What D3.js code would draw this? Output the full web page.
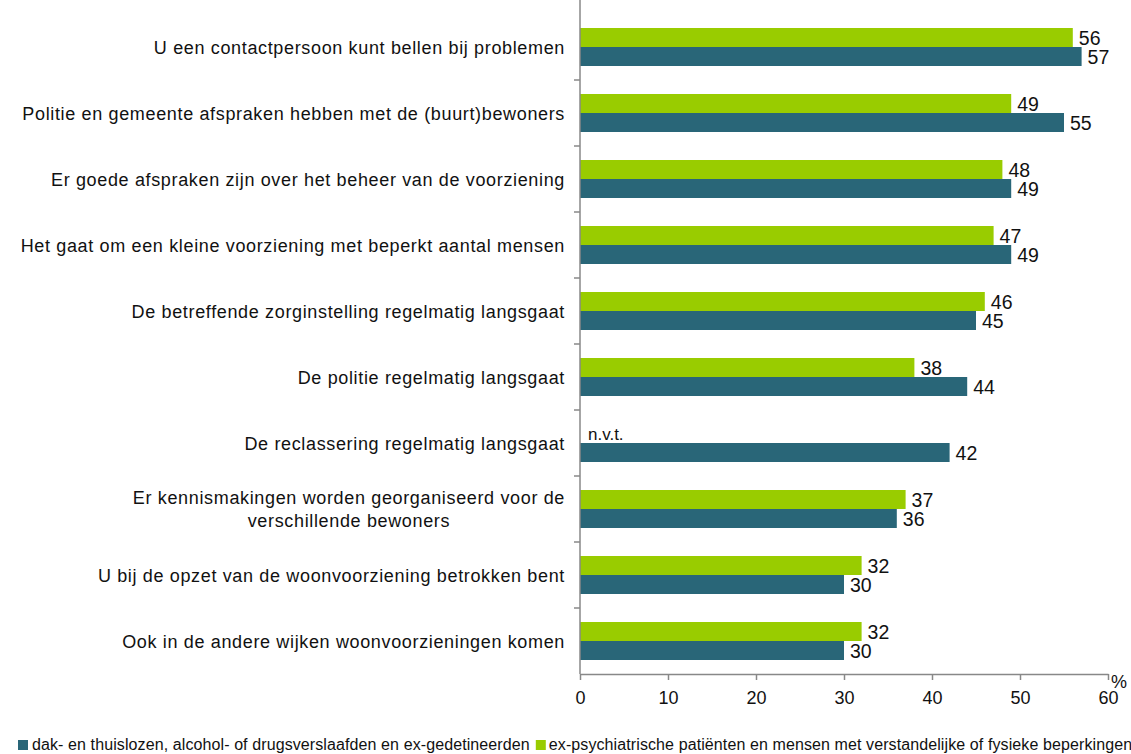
<!DOCTYPE html>
<html>
<head>
<meta charset="utf-8">
<script src="https://cdn.jsdelivr.net/npm/d3@7"></script>
<style>
  body { margin: 0; background: #fff; }
  text { font-family: "Liberation Sans", Arial, sans-serif; fill: #111; }
</style>
</head>
<body>
<svg id="chart" width="1131" height="754"></svg>
<script>
// categories (top to bottom)
const categories = [
  ["U een contactpersoon kunt bellen bij problemen"],
  ["Politie en gemeente afspraken hebben met de (buurt)bewoners"],
  ["Er goede afspraken zijn over het beheer van de voorziening"],
  ["Het gaat om een kleine voorziening met beperkt aantal mensen "],
  ["De betreffende zorginstelling regelmatig langsgaat"],
  ["De politie regelmatig langsgaat"],
  ["De reclassering regelmatig langsgaat"],
  ["Er kennismakingen worden georganiseerd voor de", "verschillende bewoners"],
  ["U bij de opzet van de woonvoorziening betrokken bent"],
  ["Ook in de andere wijken woonvoorzieningen komen"]
];
const seriesNames = [
  "dak- en thuislozen, alcohol- of drugsverslaafden en ex-gedetineerden",
  "ex-psychiatrische patiënten en mensen met verstandelijke of fysieke beperkingen"
];
const daklozen = [57, 55, 49, 49, 45, 44, 42, 36, 30, 30];
const psych = [56, 49, 48, 47, 46, 38, null, 37, 32, 32];
const xTicks = [0, 10, 20, 30, 40, 50, 60];
const colors = ["#296678", "#99cc00"];

const svg = d3.select("#chart");
const plotLeft = 580, plotRight = 1108, plotTop = 14, plotBottom = 674;
const labelRight = 565;
const spacing = "0.65px";

const x = d3.scaleLinear().domain([0, 60]).range([plotLeft, plotRight]);
const y = d3.scaleBand().domain(d3.range(categories.length)).range([plotTop, plotBottom]);
const barH = 19;

const g = svg.append("g");
categories.forEach((c, i) => {
  const mid = y(i) + y.bandwidth() / 2;
  // green bar (top)
  if (psych[i] !== null) {
    g.append("rect")
      .attr("x", x(0)).attr("y", mid - barH)
      .attr("width", x(psych[i]) - x(0)).attr("height", barH)
      .attr("fill", colors[1]);
    g.append("text")
      .attr("x", x(psych[i]) + 6).attr("y", mid - barH / 2 + 7)
      .style("font-size", "19.5px").text(psych[i]);
  } else {
    g.append("text")
      .attr("x", x(0) + 8).attr("y", mid - 3)
      .style("font-size", "17px").text("n.v.t.");
  }
  // teal bar (bottom)
  g.append("rect")
    .attr("x", x(0)).attr("y", mid)
    .attr("width", x(daklozen[i]) - x(0)).attr("height", barH)
    .attr("fill", colors[0]);
  g.append("text")
    .attr("x", x(daklozen[i]) + 6).attr("y", mid + barH / 2 + 7)
    .style("font-size", "19.5px").text(daklozen[i]);

  // category label
  const n = c.length;
  if (n === 1) {
    svg.append("text")
      .attr("x", labelRight).attr("y", mid + 6.5)
      .attr("text-anchor", "end")
      .style("font-size", "18px").style("letter-spacing", spacing).text(c[0]);
  } else {
    const lbl = svg.append("text").attr("text-anchor", "middle")
      .style("font-size", "18px").style("letter-spacing", spacing);
    const spans = c.map((line, k) => lbl.append("tspan")
      .attr("y", mid + 6.5 + (k - (n - 1) / 2) * 23).text(line));
    const w = d3.max(spans, s => s.node().getComputedTextLength());
    spans.forEach(s => s.attr("x", labelRight - w / 2));
  }
});

// y axis line + category boundary ticks
svg.append("line")
  .attr("x1", plotLeft).attr("x2", plotLeft).attr("y1", 0).attr("y2", plotBottom)
  .attr("stroke", "#888").attr("stroke-width", 1.5);
d3.range(1, categories.length).forEach(i => {
  svg.append("line")
    .attr("x1", plotLeft - 6).attr("x2", plotLeft).attr("y1", y(i)).attr("y2", y(i))
    .attr("stroke", "#888").attr("stroke-width", 1.5);
});

// x axis
const xAxis = svg.append("g")
  .attr("transform", `translate(0,${plotBottom})`)
  .call(d3.axisBottom(x).tickValues(xTicks).tickSize(6).tickSizeOuter(0));
xAxis.select(".domain").attr("stroke", "#888").attr("stroke-width", 1.5);
xAxis.selectAll(".tick line").attr("stroke", "#888").attr("stroke-width", 1.5);
xAxis.selectAll(".tick text")
  .attr("y", 17)
  .style("font-family", "Liberation Sans, Arial, sans-serif")
  .style("font-size", "18px").attr("fill", "#111");

svg.append("text")
  .attr("x", plotRight + 3).attr("y", plotBottom + 14)
  .style("font-size", "18px").text("%");

// legend
const legendY = 750;
const leg = svg.append("g");
leg.append("rect").attr("x", 18).attr("y", legendY - 10).attr("width", 10).attr("height", 10).attr("fill", colors[0]);
const t1 = leg.append("text").attr("x", 32).attr("y", legendY)
  .style("font-size", "16px").style("letter-spacing", "0.1px").text(seriesNames[0]);
const w1 = t1.node().getComputedTextLength();
leg.append("rect").attr("x", 32 + w1 + 6).attr("y", legendY - 10).attr("width", 10).attr("height", 10).attr("fill", colors[1]);
leg.append("text").attr("x", 32 + w1 + 19).attr("y", legendY)
  .style("font-size", "16px").style("letter-spacing", "0.1px").text(seriesNames[1]);
</script>
</body>
</html>
